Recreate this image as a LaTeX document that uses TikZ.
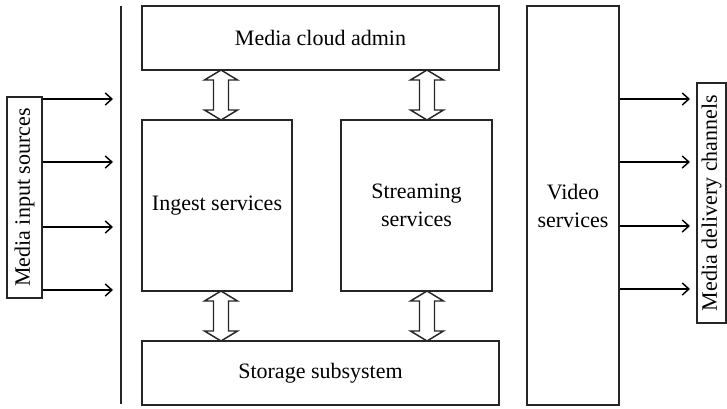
\documentclass[tikz,border=0pt]{standalone}
\usepackage{fontspec}
\setmainfont{Liberation Serif}
\usetikzlibrary{arrows.meta}
\begin{document}
\begin{tikzpicture}[x=0.75pt,y=-0.75pt,
  box/.style={draw=black!85,line width=1.2pt,inner sep=0pt,align=center,font=\fontsize{16.5}{21}\selectfont},
  conn/.style={line width=1.1pt,-{Straight Barb[length=5pt,width=9pt,line width=1.1pt]}},
  dbl/.style={draw=black!85,line width=1.1pt,fill=white}]
\useasboundingbox (0,0) rectangle (727,408);
\node[box,minimum width=267.75pt,minimum height=48pt] (admin) at (320.5,38) {Media cloud admin};
\node[box,minimum width=112.5pt,minimum height=128.25pt] (ingest) at (217,205.5) {Ingest services};
\node[box,minimum width=113.25pt,minimum height=128.25pt] (stream) at (416.5,205.5) {Streaming\\services};
\node[box,minimum width=267.75pt,minimum height=48pt] (storage) at (320.5,373) {Storage subsystem};
\node[box,minimum width=69pt,minimum height=299.25pt] (video) at (573,205.5) {Video\\services};
\node[box,rotate=90,minimum width=150.75pt,minimum height=26.25pt] (input) at (24.5,197.5) {Media input sources};
\node[box,rotate=90,minimum width=180pt,minimum height=21.75pt] (deliv) at (711.5,203) {Media delivery channels};
% left bus line
\coordinate (busT) at (121,6);
\coordinate (busB) at (121,404);
\draw[line width=1.2pt,black!85] (busT) -- (busB);
% input arrows
\foreach \y [count=\i] in {99,162,227,290}{
  \coordinate (inEnd\i) at (113,\y);
  \draw[conn] (input.south |- inEnd\i) -- (inEnd\i);
}
% output arrows
\foreach \y [count=\i] in {99,162,226,289}{
  \coordinate (outEnd\i) at (690,\y);
  \draw[conn] (video.east |- outEnd\i) -- (outEnd\i);
}
% double arrows
\foreach \c/\a/\b in {221/70/120, 427/70/120, 221/291/341, 427/291/341}{
  \draw[dbl,line join=miter] (\c,\a) -- (\c+16.5,\a+10) -- (\c+7.5,\a+10) -- (\c+7.5,\b-10) -- (\c+16.5,\b-10) -- (\c,\b) -- (\c-16.5,\b-10) -- (\c-7.5,\b-10) -- (\c-7.5,\a+10) -- (\c-16.5,\a+10) -- cycle;
}
\end{tikzpicture}
\end{document}
